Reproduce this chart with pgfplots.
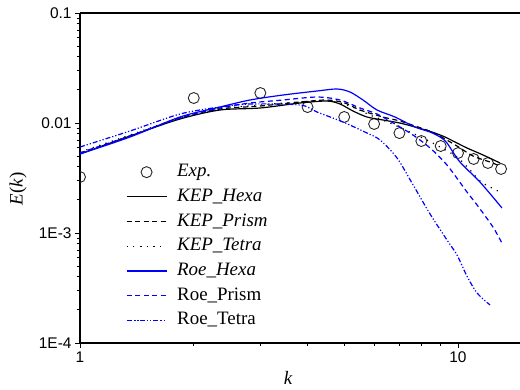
\documentclass[border=0pt]{standalone}
\usepackage{fontspec}
\setmainfont{Liberation Serif}
\newfontfamily\ticksf{Liberation Sans}
\usepackage{pgfplots}
\pgfplotsset{compat=1.18}
\definecolor{oblue}{RGB}{0,0,255}
\begin{document}
\begin{tikzpicture}
\path[use as bounding box] (-80bp,-47bp) rectangle (440bp,343bp);
\begin{axis}[
  at={(0,0)}, anchor=south west,
  scale only axis, width=440bp, height=330bp,
  xmode=log, ymode=log,
  xmin=1, xmax=14.59, ymin=1e-4, ymax=0.1,
  axis x line*=box, axis y line*=left,
  xtick pos=bottom, ytick pos=left,
  axis line style={line width=1.1bp, black},
  tick style={line width=0.9bp, black},
  major tick length=5bp, minor tick length=3bp,
  tick align=outside,
  xtick={1,10}, xticklabels={\mbox{\ticksf 1},\mbox{\ticksf 10}},
  ytick={1e-4,1e-3,1e-2,1e-1},
  yticklabels={\mbox{\ticksf 1E-4},\mbox{\ticksf 1E-3},\mbox{\ticksf 0.01},\mbox{\ticksf 0.1}},
  tick label style={font=\fontsize{15.5}{18}\selectfont},
  every axis x label/.style={at={(axis description cs:0.473,-0.106)},anchor=center},
  every axis y label/.style={at={(axis description cs:-0.141,0.467)},anchor=center,rotate=90},
  label style={font=\fontsize{19}{22}\selectfont},
  xlabel={\textit{k}}, ylabel={\textit{E}(\textit{k})},
  clip marker paths=true,
  legend cell align=left,
  legend image code/.code={\draw[mark repeat=2,mark phase=2,#1] plot coordinates {(0bp,0bp)(20bp,0bp)(40bp,0bp)};},
  legend style={draw=none, fill=none, at={(axis description cs:0.1045,0.545)}, anchor=north west,
    inner sep=0pt, outer sep=0pt, row sep=6.7bp,
    nodes={inner sep=0pt, text height=13.5bp, text depth=4.5bp},
    font=\fontsize{19}{22}\selectfont,
    /tikz/every odd column/.append style={column sep=10bp}},
]
% Exp.
\addplot[only marks, mark=o, mark size=5.5bp, mark options={line width=0.9bp, draw=black!85}] coordinates {
 (1,0.00323) (2,0.01687) (3,0.01874) (4,0.01396) (5,0.01135) (6,0.0098) (7,0.0081)
 (8,0.00686) (9,0.00618) (10,0.00533) (11,0.00471) (12,0.00433) (13,0.00382)};
\addlegendentry{\textit{Exp.}}
% KEP_Hexa
\addplot[black, line width=1.2bp, smooth, tension=0.5] coordinates {
 (1,0.00523) (1.356,0.00762) (1.839,0.01088) (2.346,0.01313) (2.994,0.01369) (3.819,0.01520)
 (4.502,0.01585) (4.873,0.01489) (5.277,0.01285) (5.744,0.01134) (6.333,0.01065) (7.025,0.00999)
 (7.695,0.00920) (8.536,0.00828) (9.239,0.00746) (9.820,0.00672) (10.56,0.00593) (11.65,0.00512) (12.92,0.00433)};
\addlegendentry{\textit{KEP\_Hexa}}
% KEP_Prism
\addplot[black, line width=1.2bp, dash pattern=on 5bp off 3.5bp, smooth, tension=0.5] coordinates {
 (1,0.00534) (1.356,0.00762) (1.839,0.01111) (2.346,0.01341) (2.994,0.01427) (3.819,0.01552)
 (4.502,0.01619) (5.024,0.01520) (5.505,0.01313) (6.333,0.01134) (7.025,0.01043) (7.695,0.00939)
 (8.536,0.00828) (9.239,0.00715) (9.939,0.00618) (10.96,0.00501) (12.15,0.00442) (12.92,0.00406)};
\addlegendentry{\textit{KEP\_Prism}}
% KEP_Tetra
\addplot[black, line width=1.2bp, dash pattern=on 1.2bp off 5.5bp, smooth, tension=0.5] coordinates {
 (1,0.00545) (1.356,0.00778) (1.839,0.01111) (2.346,0.01341) (2.994,0.01458) (3.819,0.01552)
 (4.585,0.01585) (5.180,0.01427) (5.849,0.01182) (6.609,0.01000) (7.464,0.00828) (8.177,0.00715)
 (8.964,0.00605) (9.939,0.00491) (10.76,0.00374) (11.43,0.00297) (12.15,0.00262) (12.92,0.00236)};
\addlegendentry{\textit{KEP\_Tetra}}
% Roe_Hexa
\addplot[oblue, line width=1.2bp, smooth, tension=0.5] coordinates {
 (1,0.00523) (1.356,0.00746) (1.839,0.01134) (2.346,0.01398) (2.817,0.01619) (3.444,0.01797)
 (4.236,0.01954) (4.786,0.02038) (5.180,0.01913) (5.607,0.01619) (6.107,0.01313) (6.813,0.01134)
 (7.695,0.00920) (8.434,0.00828) (8.964,0.00746) (9.352,0.00658) (10.12,0.00442) (11.43,0.00291) (13.07,0.00169)};
\addlegendentry{\textit{Roe\_Hexa}}
% Roe_Prism
\addplot[oblue, line width=1.2bp, dash pattern=on 5bp off 3.5bp, smooth, tension=0.5] coordinates {
 (1,0.00534) (1.356,0.00762) (1.839,0.01111) (2.346,0.01369) (2.817,0.01520) (3.444,0.01619)
 (4.236,0.01723) (4.873,0.01619) (5.505,0.01369) (6.107,0.01207) (6.813,0.00979) (7.602,0.00778)
 (8.434,0.00593) (9.352,0.00415) (10.56,0.00236) (11.23,0.00180) (12.38,0.00113) (13.15,0.000778)};
\addlegendentry{Roe\_Prism}
% Roe_Tetra
\addplot[oblue, line width=1.2bp, dash pattern=on 5bp off 2bp on 1.2bp off 2bp on 1.2bp off 2bp, smooth, tension=0.5] coordinates {
 (1,0.00605) (1.356,0.00846) (1.839,0.01207) (2.346,0.01398) (2.817,0.01489) (3.819,0.01458)
 (4.236,0.01259) (4.963,0.01021) (5.744,0.00811) (6.219,0.00701) (6.898,0.00481) (7.556,0.00285)
 (8.434,0.00149) (9.352,0.000864) (9.939,0.000631) (10.56,0.000406) (11.23,0.000285) (12.15,0.000222)};
\addlegendentry{Roe\_Tetra}
\end{axis}
\end{tikzpicture}
\end{document}
